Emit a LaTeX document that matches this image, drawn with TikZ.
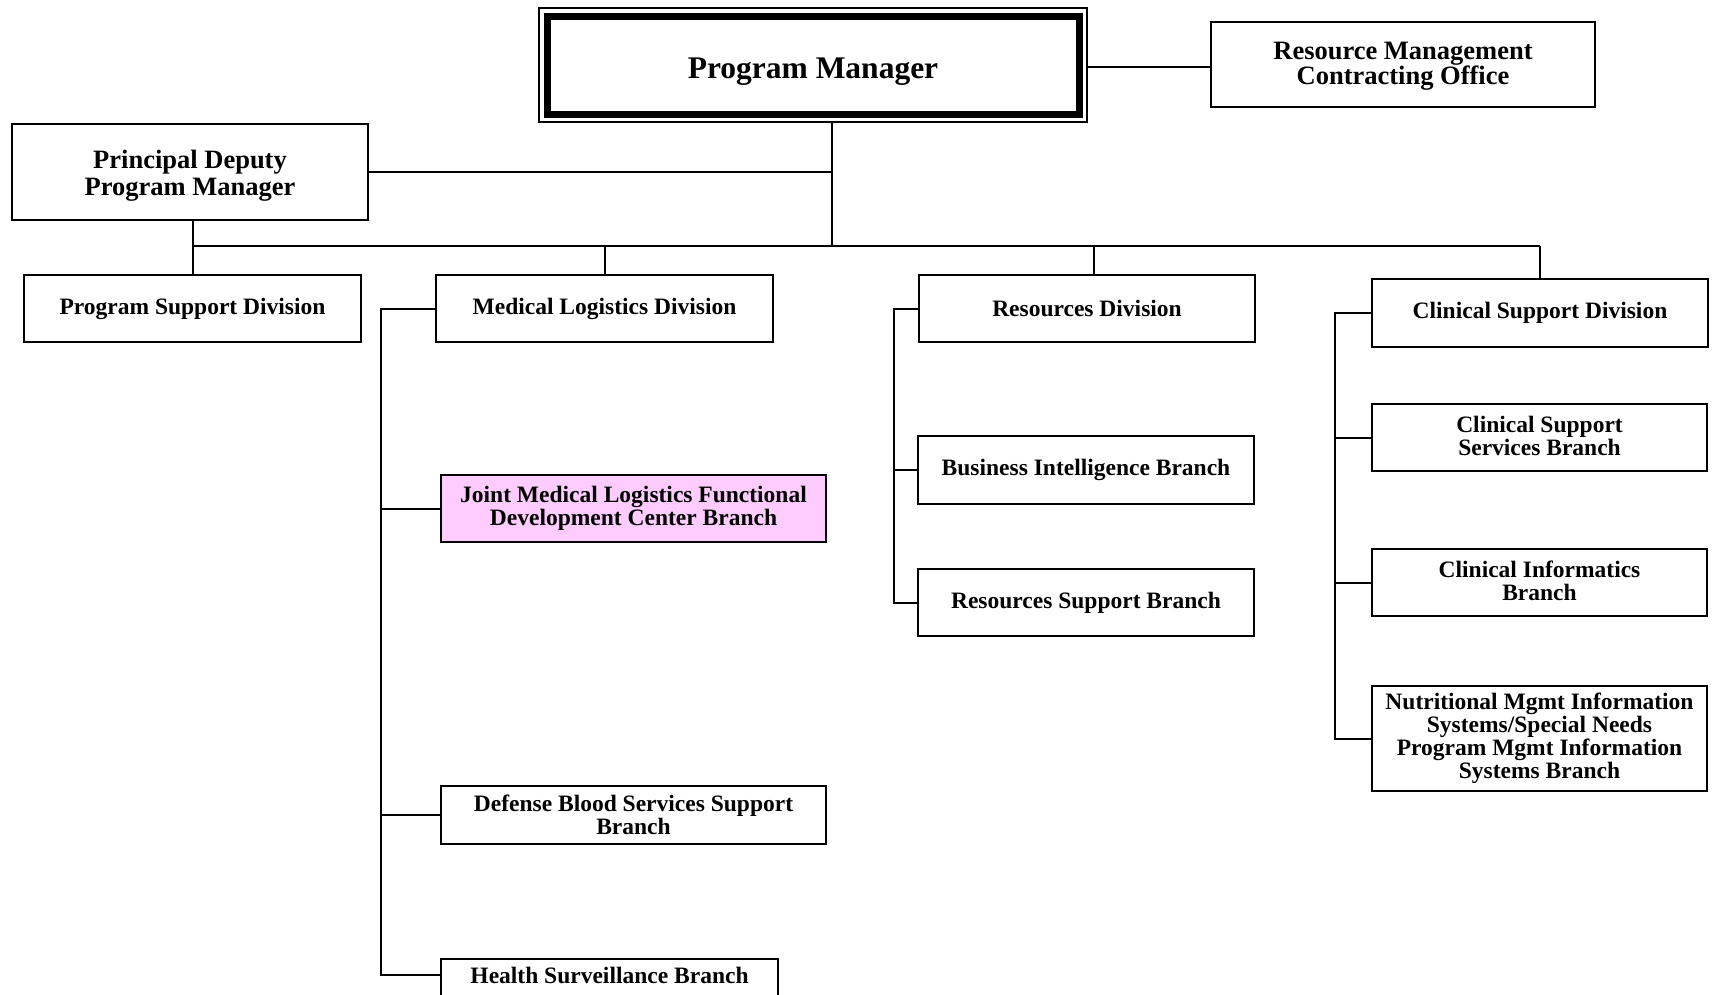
\documentclass[tikz,border=0pt]{standalone}
\usepackage{fontspec}
\setmainfont{Liberation Serif}
\begin{document}
\begin{tikzpicture}[x=1pt,y=-1pt,
  box/.style={draw, line width=1.8pt, fill=white, inner sep=0pt, align=center,
    font=\bfseries\fontsize{23.5}{23}\selectfont},
  lbl/.style={inner sep=0pt, align=center},
  conn/.style={line width=2pt}]
\useasboundingbox (0,0) rectangle (1715,994);
\clip (0,0) rectangle (1715,994);
\definecolor{pinkfill}{RGB}{255,204,255}

% top level
\node[draw, line width=1.5pt, minimum width=548pt, minimum height=114pt, inner sep=0pt] (pmo) at (813,65) {};
\node[draw, line width=7pt, minimum width=532pt, minimum height=98pt, inner sep=0pt] (pm) at (813,65) {};
\node[lbl, font=\bfseries\fontsize{31.5}{32}\selectfont] (pmt) at (813,71.5) {Program Manager};
\node[box, minimum width=384pt, minimum height=85pt] (rm) at (1403,64.5) {};
\node[lbl, font=\bfseries\fontsize{26.5}{25}\selectfont] (rmt) at (1403,66.7) {Resource Management\\Contracting Office};
\node[box, minimum width=356pt, minimum height=96pt] (pd) at (190,172) {};
\node[lbl, font=\bfseries\fontsize{26.5}{27}\selectfont] (pdt) at (190,175.3) {Principal Deputy\\Program Manager};

% divisions
\node[box, minimum width=337pt, minimum height=67pt] (psd) at (192.5,308.5) {Program Support Division};
\node[box, minimum width=337pt, minimum height=67pt] (mld) at (604.5,308.5) {Medical Logistics Division};
\node[box, minimum width=336pt, minimum height=67pt] (rd) at (1087,308.5) {Resources Division};
\node[box, minimum width=336pt, minimum height=68pt] (csd) at (1540,313) {Clinical Support Division};

% medical logistics branches
\node[box, fill=pinkfill, minimum width=385pt, minimum height=67pt] (jml) at (633.5,508.5) {Joint Medical Logistics Functional\\Development Center Branch};
\node[box, minimum width=385pt, minimum height=58pt] (dbs) at (633.5,815) {Defense Blood Services Support\\Branch};
\node[box, minimum width=337pt, minimum height=80pt, anchor=north] (hsb) at (609.5,958) {};
\node[lbl, font=\bfseries\fontsize{23.5}{23}\selectfont] (hsbt) at (609.5,975) {Health Surveillance Branch};

% resources branches
\node[box, minimum width=336pt, minimum height=68pt] (bib) at (1086,470) {Business Intelligence Branch};
\node[box, minimum width=336pt, minimum height=67pt] (rsb) at (1086,602.5) {Resources Support Branch};

% clinical branches
\node[box, minimum width=335pt, minimum height=67pt] (cssb) at (1539.5,437.5) {};
\node[lbl, font=\bfseries\fontsize{23.5}{23}\selectfont] (cssbt) at (1539.5,435.5) {Clinical Support\\Services Branch};
\node[box, minimum width=335pt, minimum height=67pt] (cib) at (1539.5,582.5) {};
\node[lbl, font=\bfseries\fontsize{23.5}{23}\selectfont] (cibt) at (1539.5,580.5) {Clinical Informatics\\Branch};
\node[box, minimum width=335pt, minimum height=105pt] (nmis) at (1539.5,738.5) {Nutritional Mgmt Information\\Systems/Special Needs\\Program Mgmt Information\\Systems Branch};

% helper coordinates
\coordinate (trunk) at (832,0);
\coordinate (bus) at (0,246);
\coordinate (pmline) at (0,67);
\coordinate (rdtop) at (1094,275);
\coordinate (mls) at (381,0);
\coordinate (rs) at (894,0);
\coordinate (cs) at (1335,0);

% connectors
\draw[conn] (pmo.east |- pmline) -- (rm.west |- pmline);
\draw[conn] (trunk |- pmo.south) -- (trunk |- bus);
\draw[conn] (pd.east) -- (pd.east -| trunk);
\draw[conn] (psd.north |- bus) -- (csd.north |- bus);
\draw[conn] (psd.north) -- (psd.north |- pd.south);
\draw[conn] (mld.north) -- (mld.north |- bus);
\draw[conn] (rdtop) -- (rdtop |- bus);
\draw[conn] (csd.north) -- (csd.north |- bus);

\draw[conn] (mld.west) -| (mls |- hsbt) -- (hsbt -| hsb.west);
\draw[conn] (jml.west) -- (jml.west -| mls);
\draw[conn] (dbs.west) -- (dbs.west -| mls);

\draw[conn] (rd.west) -| (rs |- rsb.west) -- (rsb.west);
\draw[conn] (bib.west) -- (bib.west -| rs);

\draw[conn] (csd.west) -| (cs |- nmis.west) -- (nmis.west);
\draw[conn] (cssb.west) -- (cssb.west -| cs);
\draw[conn] (cib.west) -- (cib.west -| cs);
\end{tikzpicture}
\end{document}
